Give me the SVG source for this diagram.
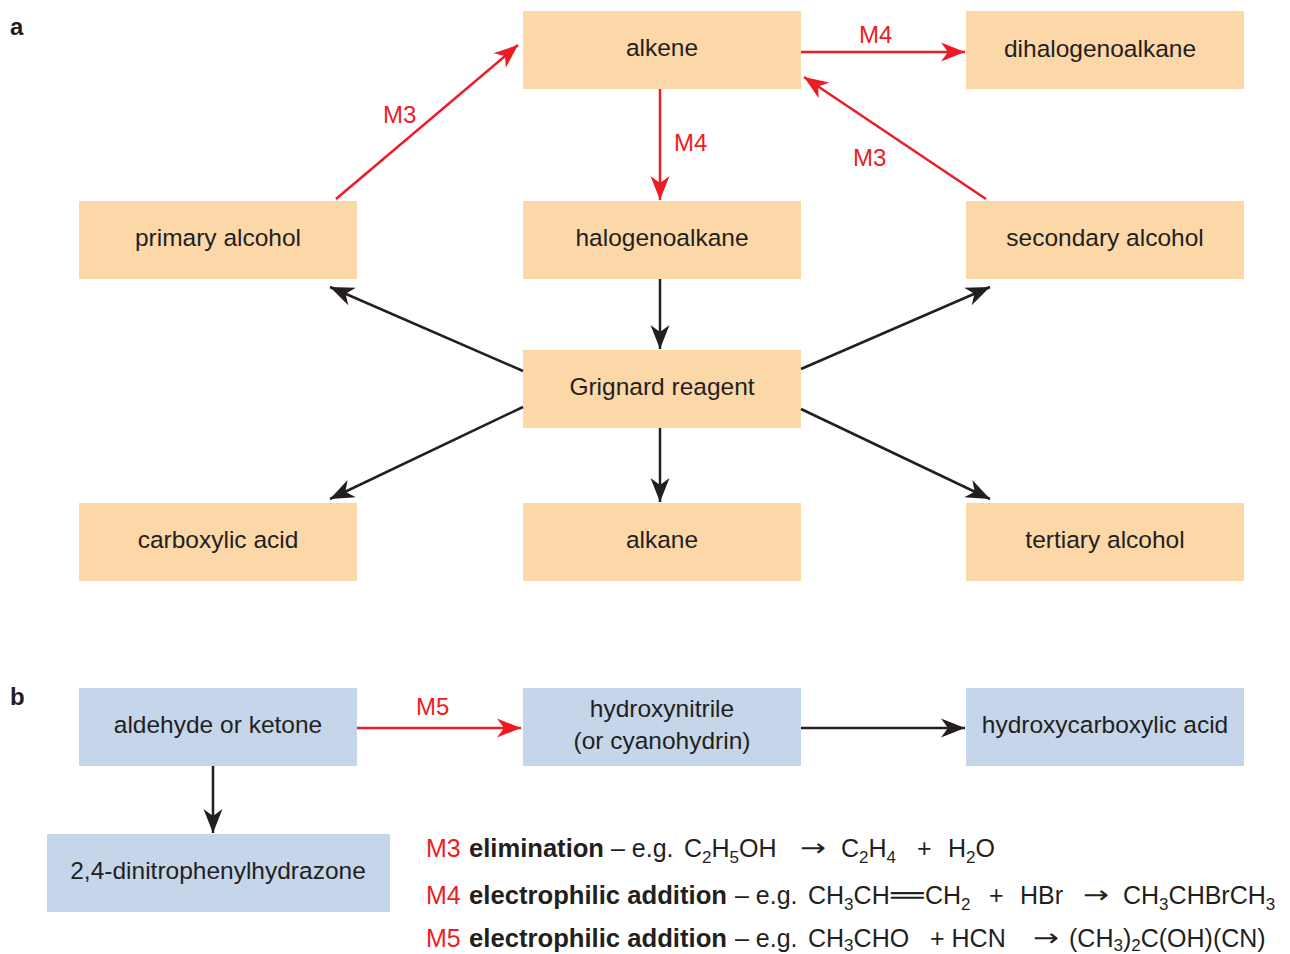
<svg xmlns="http://www.w3.org/2000/svg" width="1290" height="954" viewBox="0 0 1290 954">
  <style>
    .orange { fill: #fcd7a8; }
    .blue { fill: #c5d5ea; }
    .label { font-family: "Liberation Sans", Arial, sans-serif; font-size: 24.5px; fill: #231f20; text-anchor: middle; }
    .mlab { font-family: "Liberation Sans", Arial, sans-serif; font-size: 24px; fill: #ed1c24; }
    .part { font-family: "Liberation Sans", Arial, sans-serif; font-size: 24px; font-weight: bold; fill: #231f20; }
    .legend { font-family: "Liberation Sans", Arial, sans-serif; font-size: 25px; fill: #231f20; }
    .legend .red { fill: #ed1c24; }
    .legend .b { font-weight: bold; }
    .legend .arr { font-family: "DejaVu Sans", sans-serif; font-size: 24px; }
    .legend .bond { font-family: "DejaVu Sans", sans-serif; font-size: 25px; }
    .red-line { stroke: #ed1c24; stroke-width: 2.5; fill: none; marker-end: url(#headRed); }
    .blk-line { stroke: #231f20; stroke-width: 2.5; fill: none; marker-end: url(#headBlk); }
  </style>
  <defs>
    <marker id="headRed" viewBox="-25 -10 26 20" refX="0" refY="0" markerWidth="26" markerHeight="20" markerUnits="userSpaceOnUse" orient="auto">
      <path d="M0,0 L-24,-9.5 L-17,0 L-24,9.5 Z" fill="#ed1c24"/>
    </marker>
    <marker id="headBlk" viewBox="-25 -10 26 20" refX="0" refY="0" markerWidth="26" markerHeight="20" markerUnits="userSpaceOnUse" orient="auto">
      <path d="M0,0 L-24,-9.5 L-17,0 L-24,9.5 Z" fill="#231f20"/>
    </marker>
  </defs>

  <rect width="1290" height="954" fill="#ffffff"/>

  <!-- part labels -->
  <text class="part" x="10" y="35">a</text>
  <text class="part" x="10" y="705">b</text>

  <!-- part a nodes -->
  <g id="alkene"><rect class="orange" x="523" y="11" width="278" height="78"/><text class="label" x="662" y="56">alkene</text></g>
  <g id="dihalogenoalkane"><rect class="orange" x="966" y="11" width="278" height="78"/><text class="label" x="1100" y="57">dihalogenoalkane</text></g>
  <g id="primary-alcohol"><rect class="orange" x="79" y="201" width="278" height="78"/><text class="label" x="218" y="246">primary alcohol</text></g>
  <g id="halogenoalkane"><rect class="orange" x="523" y="201" width="278" height="78"/><text class="label" x="662" y="246">halogenoalkane</text></g>
  <g id="secondary-alcohol"><rect class="orange" x="966" y="201" width="278" height="78"/><text class="label" x="1105" y="246">secondary alcohol</text></g>
  <g id="grignard"><rect class="orange" x="523" y="350" width="278" height="78"/><text class="label" x="662" y="395">Grignard reagent</text></g>
  <g id="carboxylic-acid"><rect class="orange" x="79" y="503" width="278" height="78"/><text class="label" x="218" y="548">carboxylic acid</text></g>
  <g id="alkane"><rect class="orange" x="523" y="503" width="278" height="78"/><text class="label" x="662" y="548">alkane</text></g>
  <g id="tertiary-alcohol"><rect class="orange" x="966" y="503" width="278" height="78"/><text class="label" x="1105" y="548">tertiary alcohol</text></g>

  <!-- part b nodes -->
  <g id="aldehyde-ketone"><rect class="blue" x="79" y="688" width="278" height="78"/><text class="label" x="218" y="733">aldehyde or ketone</text></g>
  <g id="hydroxynitrile"><rect class="blue" x="523" y="688" width="278" height="78"/><text class="label" x="662" y="717">hydroxynitrile</text><text class="label" x="662" y="749">(or cyanohydrin)</text></g>
  <g id="hydroxycarboxylic-acid"><rect class="blue" x="966" y="688" width="278" height="78"/><text class="label" x="1105" y="733">hydroxycarboxylic acid</text></g>
  <g id="dnph"><rect class="blue" x="47" y="834" width="343" height="78"/><text class="label" x="218" y="879">2,4-dinitrophenylhydrazone</text></g>

  <!-- connectors -->
  <g id="connectors">
    <line class="red-line" x1="336" y1="199" x2="518" y2="45"/>
    <line class="red-line" x1="801" y1="52" x2="965" y2="52"/>
    <line class="red-line" x1="986" y1="199" x2="804" y2="77"/>
    <line class="red-line" x1="660" y1="89" x2="660" y2="200"/>
    <line class="blk-line" x1="660" y1="279" x2="660" y2="349"/>
    <line class="blk-line" x1="523" y1="371" x2="330" y2="287"/>
    <line class="blk-line" x1="801" y1="369" x2="990" y2="287"/>
    <line class="blk-line" x1="523" y1="407" x2="330" y2="499"/>
    <line class="blk-line" x1="801" y1="409" x2="990" y2="499"/>
    <line class="blk-line" x1="660" y1="428" x2="660" y2="502"/>
    <line class="red-line" x1="357" y1="728" x2="521" y2="728"/>
    <line class="blk-line" x1="801" y1="728" x2="965" y2="728"/>
    <line class="blk-line" x1="213" y1="766" x2="213" y2="833"/>

    <text class="mlab" x="383" y="123">M3</text>
    <text class="mlab" x="859" y="43">M4</text>
    <text class="mlab" x="853" y="166">M3</text>
    <text class="mlab" x="674" y="151">M4</text>
    <text class="mlab" x="416" y="715">M5</text>
  </g>

  <!-- mechanism key -->
  <g id="key" class="legend">
    <text class="red" x="426" y="857">M3</text>
    <text class="b" x="469" y="857" textLength="135" lengthAdjust="spacingAndGlyphs">elimination</text>
    <text x="611" y="857">– e.g.</text>
    <text x="684" y="857">C<tspan font-size="17" dy="6">2</tspan><tspan dy="-6">H</tspan><tspan font-size="17" dy="6">5</tspan><tspan dy="-6">OH</tspan></text>
    <text class="arr" x="800" y="856" textLength="26" lengthAdjust="spacingAndGlyphs">→</text>
    <text x="841" y="857">C<tspan font-size="17" dy="6">2</tspan><tspan dy="-6">H</tspan><tspan font-size="17" dy="6">4</tspan></text>
    <text x="917" y="857">+</text>
    <text x="948" y="857">H<tspan font-size="17" dy="6">2</tspan><tspan dy="-6">O</tspan></text>

    <text class="red" x="426" y="904">M4</text>
    <text class="b" x="469" y="904" textLength="258" lengthAdjust="spacingAndGlyphs">electrophilic addition</text>
    <text x="735" y="904">– e.g.</text>
    <text x="808" y="904">CH<tspan font-size="17" dy="6">3</tspan><tspan dy="-6">CH</tspan></text>
    <text class="bond" x="891" y="904" textLength="32" lengthAdjust="spacingAndGlyphs">═</text>
    <text x="925" y="904">CH<tspan font-size="17" dy="6">2</tspan></text>
    <text x="989" y="904">+</text>
    <text x="1020" y="904">HBr</text>
    <text class="arr" x="1083" y="903" textLength="26" lengthAdjust="spacingAndGlyphs">→</text>
    <text x="1123" y="904">CH<tspan font-size="17" dy="6">3</tspan><tspan dy="-6">CHBrCH</tspan><tspan font-size="17" dy="6">3</tspan></text>

    <text class="red" x="426" y="947">M5</text>
    <text class="b" x="469" y="947" textLength="258" lengthAdjust="spacingAndGlyphs">electrophilic addition</text>
    <text x="735" y="947">– e.g.</text>
    <text x="808" y="947">CH<tspan font-size="17" dy="4">3</tspan><tspan dy="-4">CHO</tspan></text>
    <text x="930" y="947">+ HCN</text>
    <text class="arr" x="1033" y="946" textLength="26" lengthAdjust="spacingAndGlyphs">→</text>
    <text x="1069" y="947">(CH<tspan font-size="17" dy="4">3</tspan><tspan dy="-4">)</tspan><tspan font-size="17" dy="4">2</tspan><tspan dy="-4">C(OH)(CN)</tspan></text>
  </g>
</svg>
